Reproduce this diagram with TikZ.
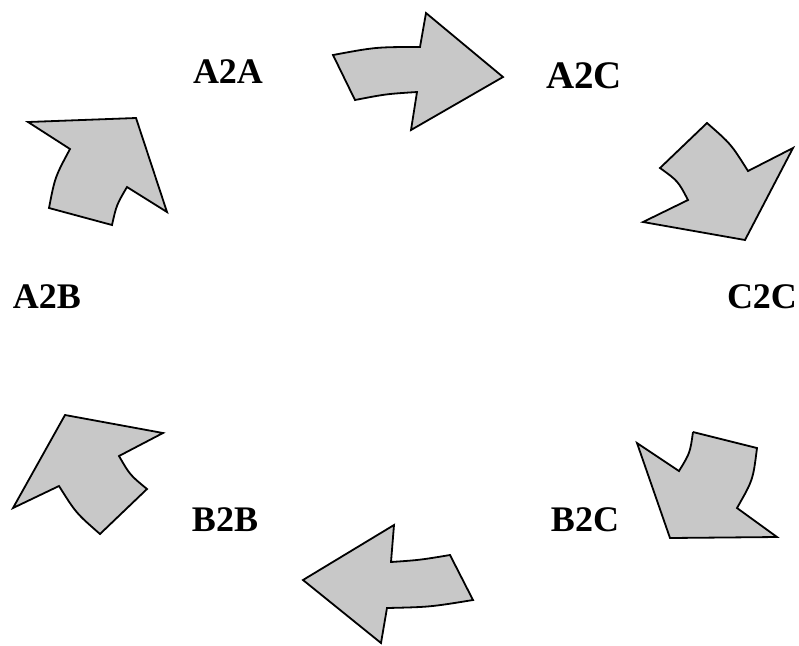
\documentclass[tikz,border=0pt]{standalone}
\usepackage{fontspec}
\setmainfont{Liberation Serif}
\usepackage{tikz}
\usetikzlibrary{positioning}
\definecolor{arrowgray}{RGB}{200,200,200}

\begin{document}
\begin{tikzpicture}[x=0.5pt, y=-0.5pt, every node/.style={font=\fontsize{18}{20}\selectfont\bfseries, inner sep=0pt}]
  \tikzstyle{bigarrow}=[draw=black, fill=arrowgray, line width=0.9pt, line join=miter]
  \useasboundingbox (0,0) rectangle (799,645);
  % labels
  \node (a2a) at (228,72) {A2A};
  \node[font=\fontsize{19.5}{21}\selectfont\bfseries] (a2c) at (584,76) {A2C};
  \node (c2c) at (762,297) {C2C};
  \node (b2c) at (585,520) {B2C};
  \node (b2b) at (225,520) {B2B};
  \node (a2b) at (47,297) {A2B};
  % arrows round the cycle
  \draw[bigarrow] (333,55) .. controls (376,47) .. (420,47) -- (426,13) -- (503,77)
    -- (411,130) -- (417,92) .. controls (386,94) .. (355,100) -- cycle;
  \draw[bigarrow] (707,123) .. controls (731,144) .. (748,171) -- (793,148) -- (745,240)
    -- (643,222) -- (688,200) .. controls (678,181) .. (660,168) -- cycle;
  \draw[bigarrow] (693,432) -- (757,448) .. controls (753,480) .. (737,508) -- (777,537)
    -- (670,538) -- (637,443) -- (679,471) .. controls (690,453) .. (693,432);
  \draw[bigarrow] (394,525) -- (391,562) .. controls (420,560) .. (450,555) -- (473,600)
    .. controls (430,607) .. (387,608) -- (381,643) -- (303,580) -- cycle;
  \draw[bigarrow] (65,415) -- (163,433) -- (119,456) .. controls (130,475) .. (147,489)
    -- (100,534) .. controls (76,513) .. (59,486) -- (13,508) -- cycle;
  \draw[bigarrow] (28,122) -- (136,118) -- (167,212) -- (127,187) .. controls (116.5,205) .. (112,225)
    -- (49,208) .. controls (55,177) .. (70,149) -- cycle;
\end{tikzpicture}
\end{document}
